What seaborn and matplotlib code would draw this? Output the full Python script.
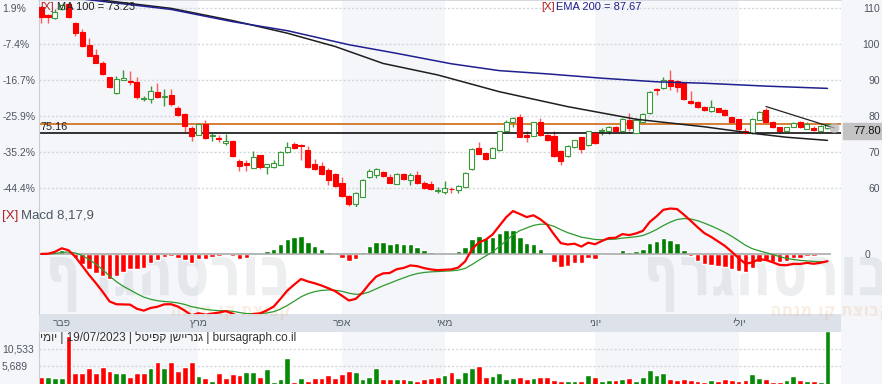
import numpy as np
import pandas as pd
import matplotlib
matplotlib.use("Agg")
import matplotlib.pyplot as plt
import seaborn as sns
from matplotlib.patches import Rectangle, PathPatch
from matplotlib.textpath import TextPath
from matplotlib.font_manager import FontProperties
from matplotlib.transforms import Affine2D

# ---------------- data ----------------
opens = [110.4, 108.1, 107.1, 109.6, 111.2, 105.9, 103.4, 99.7, 96.9, 94.6,
         90.7, 86.3, 90.0, 89.8, 89.4, 84.6, 84.7, 86.6, 85.2, 85.8,
         82.1, 80.6, 76.8, 74.7, 77.7, 74.4, 74.0, 72.6, 73.1, 67.4,
         66.9, 65.5, 69.2, 65.9, 65.9, 66.5, 70.1, 72.2, 71.8, 70.6,
         66.7, 66.2, 65.0, 63.9, 61.5, 57.8, 55.6, 57.6, 63.1, 63.6,
         64.5, 63.1, 61.1, 63.9, 62.2, 63.6, 61.5, 61.0, 59.2, 58.9,
         59.8, 59.5, 60.4, 65.2, 71.0, 69.6, 68.2, 70.6, 75.9, 78.4,
         79.6, 74.6, 74.5, 78.4, 74.7, 74.5, 70.4, 68.9, 71.3, 74.1,
         71.9, 75.4, 75.9, 75.9, 77.0, 75.9, 78.9, 75.2, 78.4, 80.7,
         87.4, 87.7, 90.0, 89.8, 89.3, 84.3, 84.0, 82.6, 81.5, 82.1,
         81.7, 79.6, 79.1, 75.9, 75.2, 79.0, 81.7, 78.4, 76.9, 75.9,
         77.0, 78.4, 76.4, 76.8, 75.9, 76.6]
highs = [110.5, 108.2, 109.6, 111.2, 111.5, 106.0, 104.1, 101.6, 98.6, 95.3,
         90.9, 91.1, 92.8, 92.5, 90.9, 85.6, 88.3, 89.1, 87.4, 87.6,
         82.8, 80.8, 77.3, 78.0, 78.9, 75.4, 74.7, 74.9, 73.3, 68.0,
         67.8, 70.3, 69.2, 66.7, 67.8, 70.4, 72.9, 72.9, 72.2, 71.8,
         68.0, 67.3, 65.5, 64.2, 63.1, 58.0, 59.0, 62.4, 65.2, 65.6,
         64.8, 63.8, 64.3, 64.3, 64.1, 64.8, 62.0, 62.0, 60.4, 61.9,
         60.4, 60.7, 64.5, 71.0, 72.9, 69.6, 71.3, 75.9, 78.9, 79.6,
         80.5, 75.7, 78.3, 79.4, 74.9, 75.9, 70.5, 71.9, 73.4, 74.2,
         75.9, 75.6, 76.6, 77.2, 77.2, 79.4, 80.9, 79.4, 80.7, 87.0,
         87.7, 90.9, 92.8, 89.9, 89.4, 87.0, 84.2, 82.8, 84.5, 82.3,
         81.9, 79.8, 79.2, 76.6, 79.4, 81.4, 82.1, 78.5, 77.0, 77.0,
         78.4, 78.5, 78.4, 77.3, 77.4, 78.0]
lows = [105.9, 105.9, 107.0, 109.4, 107.3, 102.2, 99.3, 96.6, 94.6, 91.5,
        87.8, 86.2, 89.9, 88.6, 84.8, 84.2, 83.6, 85.0, 82.8, 82.9,
        80.0, 75.6, 73.1, 74.6, 73.5, 73.1, 72.9, 72.0, 68.6, 64.8,
        64.8, 65.5, 65.4, 63.8, 65.5, 66.3, 69.6, 70.8, 67.8, 65.5,
        65.0, 63.5, 60.8, 60.4, 57.6, 55.0, 54.6, 57.4, 62.7, 62.7,
        63.1, 61.3, 61.1, 62.2, 60.8, 61.1, 59.6, 59.4, 58.5, 58.3,
        58.7, 58.7, 60.2, 65.0, 69.5, 67.8, 68.2, 70.4, 75.7, 77.0,
        74.1, 72.9, 74.4, 74.5, 73.0, 68.7, 66.4, 68.7, 71.1, 69.8,
        71.7, 72.2, 74.8, 75.0, 75.7, 75.9, 75.9, 75.2, 78.2, 80.5,
        85.8, 87.4, 87.2, 86.8, 84.4, 83.2, 82.2, 81.4, 81.2, 81.0,
        80.1, 78.0, 75.9, 75.0, 75.0, 78.9, 78.3, 76.7, 75.4, 75.8,
        76.9, 76.7, 76.4, 75.9, 75.8, 76.5]
closes = [107.4, 107.6, 109.0, 110.9, 107.4, 103.1, 99.5, 96.8, 94.8, 91.7,
          88.0, 90.2, 90.6, 89.5, 85.2, 84.9, 87.0, 85.4, 85.6, 83.3,
          80.3, 77.2, 74.4, 77.7, 74.0, 74.6, 73.5, 73.0, 68.9, 66.1,
          66.4, 68.7, 65.7, 66.6, 66.9, 70.1, 71.5, 71.0, 71.6, 65.9,
          65.2, 63.8, 62.2, 60.6, 57.8, 55.6, 58.7, 62.2, 64.8, 65.3,
          63.3, 61.5, 63.9, 62.5, 63.6, 61.3, 59.9, 59.6, 59.4, 59.9,
          59.6, 60.6, 64.3, 70.7, 69.5, 68.1, 71.0, 75.7, 78.4, 79.4,
          74.3, 74.2, 78.2, 74.7, 73.2, 68.9, 67.6, 71.7, 73.3, 70.7,
          75.7, 72.4, 76.2, 77.0, 75.9, 79.1, 76.6, 78.9, 80.5, 86.8,
          87.1, 90.0, 88.2, 88.0, 84.6, 83.5, 82.4, 81.7, 82.4, 81.2,
          80.3, 78.2, 76.3, 75.4, 79.2, 81.2, 78.4, 76.9, 75.9, 76.9,
          78.0, 76.9, 77.7, 76.1, 77.3, 77.8]
volumes = [2545, 2545, 2065, 2250, 14300, 3700, 3506, 5140, 3506, 5428,
           4180, 3506, 3700, 2545, 3700, 3506, 5140, 6870, 5140, 6870,
           4275, 5428, 6870, 2737, 2257, 1300, 3700, 2257, 3218, 3026,
           3987, 3987, 2545, 4755, 1105, 1873, 8022, 1105, 2065, 1297,
           2065, 2065, 3026, 2257, 3314, 4180, 3987, 1777, 2353, 4948,
           1777, 1873, 1873, 1777, 1585, 1393, 1873, 2065, 2545, 3026,
           3987, 2065, 3987, 5140, 5620, 2545, 2737, 3700, 1873, 2257,
           2545, 1873, 2257, 2545, 2545, 1585, 1297, 1297, 1297, 1297,
           3026, 2545, 1297, 1585, 1585, 1873, 2257, 1297, 2545, 4467,
           3026, 3700, 1873, 1585, 1873, 1585, 1393, 1105, 1585, 1393,
           1873, 1585, 1393, 1585, 3314, 2257, 1777, 1105, 1105, 1585,
           2737, 1585, 1393, 1393, 1105, 15600]

ma100_idx = [0, 11, 19, 28, 36, 43, 50, 58, 67, 77, 87, 97, 104, 109, 115]
ma100_val = [114.3, 111.7, 109.9, 106.5, 103.0, 99.3, 94.6, 91.4, 86.75, 82.6,
             79.1, 77.0, 75.2, 74.1, 73.23]
ema200_idx = [0, 6, 19, 28, 36, 45, 52, 60, 67, 74, 82, 90, 97, 106, 115]
ema200_val = [113.8, 112.5, 109.6, 106.2, 103.7, 99.8, 97.4, 94.5, 92.6, 91.7,
              90.5, 89.5, 89.1, 88.3, 87.67]

trend_idx = [106, 116]
trend_val = [82.64, 76.67]
support_level = 75.16

price_ticks = [110, 100, 90, 80, 70, 60]
pct_labels = ["1.9%", "-7.4%", "-16.7%", "-25.9%", "-35.2%", "-44.4%"]
vol_ticks = [10533, 5689]
vol_labels = ["10,533", "5,689"]
month_idx = [3, 23, 44, 59, 81, 102]
month_names = ["פבר", "מרץ", "אפר", "מאי", "יוני", "יולי"]
macd_params = (8, 17, 9)
info_parts = ["יומי", "19/07/2023", "גנריישן קפיטל", "bursagraph.co.il"]
watermark_main = "בורסהגרף"
watermark_sub = "קבוצת קו מנחה"

# ---------------- style ----------------
sns.set_theme(style="white")
plt.rcParams["font.family"] = ["Liberation Sans", "DejaVu Sans"]

W, H = 882, 384
fig = plt.figure(figsize=(W / 100, H / 100), dpi=100, facecolor="#f5f6f9")


def add_ax(x0, y0, x1, y1):
    return fig.add_axes([x0 / W, 1 - y1 / H, (x1 - x0) / W, (y1 - y0) / H])


def rtl(s):
    return s[::-1]


N = len(closes)
idx = np.arange(N)
o, h, l, c = map(np.array, (opens, highs, lows, closes))
XL = (-0.32, 116.98)
BAND = "#f4f6f9"
LBL = "#4d5663"
GRID = dict(color="#d3d7dd", ls=(0, (1.5, 1.5)), lw=1.0)


def shade(ax):
    edges = [XL[0]] + month_idx[1:] + [XL[1]]
    for k in range(len(edges) - 1):
        if k % 2 == 0:
            ax.axvspan(edges[k], edges[k + 1], color=BAND, lw=0, zorder=0)


def clean(ax):
    for s in ax.spines.values():
        s.set_visible(False)
    ax.spines["left"].set_visible(True)
    ax.spines["left"].set_color("#c9ced6")
    ax.spines["left"].set_linewidth(0.8)
    ax.set_xticks([])


# ---------------- time band ----------------
axt = add_ax(39, 314, 841, 332)
axt.set_facecolor("#dde1e9")
axt.set_xlim(XL)
axt.set_ylim(0, 1)
for s in axt.spines.values():
    s.set_visible(False)
axt.set_xticks([]); axt.set_yticks([])
for mi, name in zip(month_idx, month_names):
    axt.text(mi, 0.5, rtl(name), ha="center", va="center", fontsize=7.5, color="#555c66")

# ---------------- price panel ----------------
ax = add_ax(39, 0, 841, 207)
ax.set_facecolor("white")
ax.set_xlim(XL)
ax.set_ylim(54.72, 112.22)
shade(ax)
clean(ax)
ax.spines["top"].set_visible(True)
ax.spines["top"].set_color("#d0d4da")
ax.set_axisbelow(True)
ax.set_yticks(price_ticks)
ax.set_yticklabels(pct_labels)
ax.grid(axis="y", **GRID)
ax.tick_params(axis="y", length=0, pad=26.6, labelsize=7.5, labelcolor=LBL)
for t in ax.get_yticklabels():
    t.set_ha("left")

up = c >= o
wick_col = np.where(up, "#3a9a3a", "#ff5a5a")
ax.vlines(idx, l, h, colors=wick_col, lw=1.0, zorder=2)
body_b = np.minimum(o, c)
body_h = np.maximum(np.abs(c - o), 0.22)
ax.bar(idx, body_h, bottom=body_b, width=0.74,
       color=np.where(up, "white", "#ff0000"),
       edgecolor=np.where(up, "#3a9a3a", "#ff0000"), linewidth=0.8, zorder=3)

sns.lineplot(x=ma100_idx, y=ma100_val, ax=ax, color="#1e1e1e", lw=1.1, legend=False, zorder=4)
sns.lineplot(x=ema200_idx, y=ema200_val, ax=ax, color="#1f1f8f", lw=1.1, legend=False, zorder=4)
ax.axhline(closes[-1], color="#d06a10", lw=1.2, zorder=2.5)
ax.axhline(support_level, color="#111111", lw=1.2, zorder=2.5)
ax.text(XL[0] + 0.15, support_level + 0.4, f"{support_level:.2f}", fontsize=7.8,
        color="#222222", va="bottom", ha="left", zorder=5)
ax.plot(trend_idx, trend_val, color="#222222", lw=0.9, zorder=5)
ax.scatter([trend_idx[-1]], [trend_val[-1]], s=55, color="#b8b8b8", alpha=0.75,
           edgecolor="none", zorder=6, clip_on=False)
ax.set_ylabel("")

axr = ax.twinx()
axr.set_ylim(ax.get_ylim())
axr.set_yticks(price_ticks)
axr.set_yticklabels([str(t) for t in price_ticks])
axr.tick_params(axis="y", length=0, pad=28.1, labelsize=7.5, labelcolor=LBL)
for t in axr.get_yticklabels():
    t.set_ha("right")
for s in axr.spines.values():
    s.set_visible(False)
axr.set_xticks([])

# ---------------- MACD panel ----------------
axm = add_ax(39, 207, 841, 314)
axm.set_facecolor("white")
axm.set_xlim(XL)
axm.set_ylim(-5.5, 4.3)
shade(axm)
clean(axm)
f_, s_, g_ = macd_params
cs = pd.Series(closes)
macd = cs.ewm(span=f_, adjust=False).mean() - cs.ewm(span=s_, adjust=False).mean()
sig = macd.ewm(span=g_, adjust=False).mean()
hist = macd - sig
axm.bar(idx, hist, width=0.8, color=np.where(hist >= 0, "#008000", "#ff0000"), zorder=2)
axm.hlines(0, XL[0], N - 0.5, color="#a3a3a3", lw=1.1, zorder=2.5)
sns.lineplot(x=idx, y=sig.values, ax=axm, color="#2e9a2e", lw=0.9, legend=False, zorder=3)
sns.lineplot(x=idx, y=macd.values, ax=axm, color="#ff0000", lw=1.6, legend=False, zorder=4)
axm.yaxis.tick_right()
axm.set_yticks([0])
axm.set_yticklabels(["0"])
axm.tick_params(axis="y", length=0, pad=21, labelsize=7.5, labelcolor=LBL)
for t in axm.get_yticklabels():
    t.set_ha("right")
axm.set_ylabel("")


def watermark(text, box, color, alpha):
    tp = TextPath((0, 0), rtl(text), size=50,
                  prop=FontProperties(family="DejaVu Sans", weight="bold"))
    ext = tp.get_extents()
    x0, y0, x1, y1 = box
    tr = (Affine2D().translate(-ext.x0, -ext.y0)
          .scale((x1 - x0) / ext.width / W, (y1 - y0) / ext.height / H)
          .translate(x0 / W, 1 - y1 / H) + fig.transFigure)
    p = PathPatch(tp, transform=tr, fc=color, ec="none", alpha=alpha, zorder=0.5)
    axm.add_artist(p)
    p.set_clip_on(False)


for bx in [(50, 257, 290, 312), (648, 257, 888, 312)]:
    watermark(watermark_main, bx, "#aab2bf", 0.22)
for bx in [(172, 306, 290, 320), (772, 306, 890, 320)]:
    watermark(watermark_sub, bx, "#e0a060", 0.17)

# ---------------- volume panel ----------------
axv = add_ax(39, 332, 841, 384)
axv.set_facecolor("white")
axv.set_xlim(XL)
axv.set_ylim(432, 15418)
shade(axv)
clean(axv)
axv.set_axisbelow(True)
prev = np.concatenate([[opens[0]], closes[:-1]])
vcol = np.where(c >= prev, "#078a07", "#ff0000")
axv.bar(idx, volumes, width=0.85, color=vcol, zorder=2)
axv.set_yticks(vol_ticks)
axv.set_yticklabels(vol_labels)
axv.grid(axis="y", **GRID)
axv.tick_params(axis="y", length=0, pad=26.6, labelsize=7.5, labelcolor=LBL)
for t in axv.get_yticklabels():
    t.set_ha("left")

# ---------------- texts ----------------
def ftext(x, y, s, **kw):
    fig.text(x / W, 1 - y / H, s, va="center", ha="left", **kw)


ftext(40, 7, "[X]", fontsize=8, color="#b52020")
ftext(57, 7, f"MA 100 = {ma100_val[-1]:.2f}", fontsize=8, color="#222222")
ftext(541, 7, "[X]", fontsize=8, color="#b52020")
ftext(556, 7, f"EMA 200 = {ema200_val[-1]:.2f}", fontsize=8, color="#20208a")
ftext(2, 216, "[X]", fontsize=9.5, color="#b52020")
ftext(21, 216, "Macd %d,%d,%d" % macd_params, fontsize=9.5, color="#4d5663")
info = " | ".join(rtl(p) if any("\u0590" <= ch <= "\u05ff" for ch in p) else p for p in info_parts)
ftext(40, 337.5, info, fontsize=8.5, color="#333333")

fig.add_artist(Rectangle((843 / W, 1 - 139 / H), 39 / W, 16 / H, transform=fig.transFigure,
                         color="#c3c3c3", zorder=5))
fig.text(867.5 / W, 1 - 131 / H, f"{closes[-1]:.2f}", ha="center", va="center",
         fontsize=8, color="#111111", zorder=6)

fig.savefig("out.png", dpi=100, facecolor=fig.get_facecolor())
